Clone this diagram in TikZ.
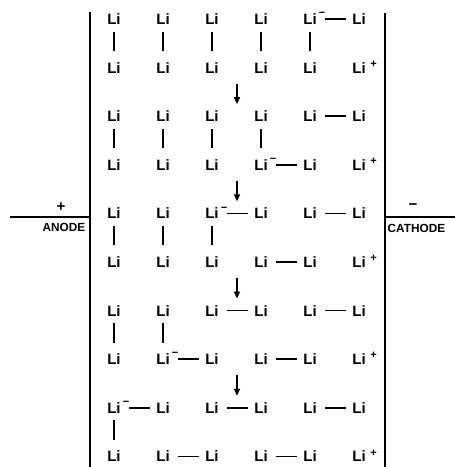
\documentclass[tikz,border=0pt]{standalone}
\usepackage{fontspec}
\setmainfont{Liberation Sans}
\usetikzlibrary{arrows.meta}
\begin{document}
\begin{tikzpicture}[x=1pt,y=-1pt,
  atom/.style={font=\fontsize{15}{15}\selectfont\bfseries, inner sep=0pt},
  chg/.style={font=\fontsize{11}{11}\selectfont\bfseries, inner sep=0pt},
  bond/.style={line width=1.6pt},
  flow/.style={line width=1.5pt, -{Triangle[length=7pt,width=6pt]}},
  electrode/.style={line width=2.8pt},
  lead/.style={line width=2pt},
  sign/.style={font=\fontsize{15}{15}\selectfont\bfseries, inner sep=0pt},
  tag/.style={font=\fontsize{11.8}{12}\selectfont\bfseries, inner sep=0pt}]
\useasboundingbox (0,0) rectangle (455,467);

% row pitch of the lattice
\def\rowy#1{19+48.6*(#1-1)}

% lithium atoms: ten rows of six
\foreach \r in {1,...,10}
  \foreach \c in {1,...,6}
    \node[atom] (r\r c\c) at ({114+49*(\c-1)}, {\rowy{\r}}) {Li};

% charges
\newcommand{\minusat}[1]{\node[chg] (m#1) at ([xshift=12pt,yshift=4.5pt]#1.center) {−};}
\newcommand{\plusat}[1]{\node[chg] (p#1) at ([xshift=14.5pt,yshift=3.5pt]#1.center) {+};}
\minusat{r1c5}
\minusat{r4c4}
\minusat{r5c3}
\minusat{r8c2}
\minusat{r9c1}
\foreach \r in {2,4,6,8,10} {\plusat{r\r c6}}

% horizontal bonds
\foreach \r/\a/\b in {1/5/6, 3/5/6, 4/4/5, 5/3/4, 5/5/6, 6/4/5, 7/3/4, 7/5/6,
                      8/2/3, 8/4/5, 9/1/2, 9/3/4, 9/5/6, 10/2/3, 10/4/5}
  \draw[bond] ([xshift=8pt]r\r c\a.east) -- ([xshift=-6.5pt]r\r c\b.west);

% vertical bonds
\foreach \r/\n in {1/5, 3/4, 5/3, 7/2, 9/1} {
  \pgfmathtruncatemacro{\s}{\r+1}
  \foreach \c in {1,...,\n}
    \draw[bond] ([yshift=-7pt]r\r c\c.south) -- ([yshift=11pt]r\s c\c.north);
}

% transitions between states
\foreach \r in {2,4,6,8} {
  \pgfmathtruncatemacro{\s}{\r+1}
  \coordinate (f\r) at (237, {\rowy{\r}+16});
  \coordinate (t\r) at (237, {\rowy{\s}-12});
  \draw[flow] (f\r) -- (t\r);
}

% electrodes
\coordinate (aTop) at (90,12);
\coordinate (aBot) at (90,467);
\coordinate (cTop) at (385,13);
\coordinate (cBot) at (385,467);
\draw[electrode] (aTop) -- (aBot);
\draw[electrode] (cTop) -- (cBot);

\coordinate (aEnd) at (10,216.5);
\coordinate (aJoin) at (90,216.5);
\coordinate (cJoin) at (385,216.5);
\coordinate (cEnd) at (455,216.5);
\draw[lead] (aEnd) -- (aJoin);
\draw[lead] (cJoin) -- (cEnd);

\node[sign] (plus) at (61,207) {+};
\node[sign] (minus) at (413,207) {−};
\node[tag, anchor=east] (anode) at (85.5,227) {ANODE};
\node[tag, anchor=west] (cathode) at (387.5,228) {CATHODE};
\end{tikzpicture}
\end{document}
